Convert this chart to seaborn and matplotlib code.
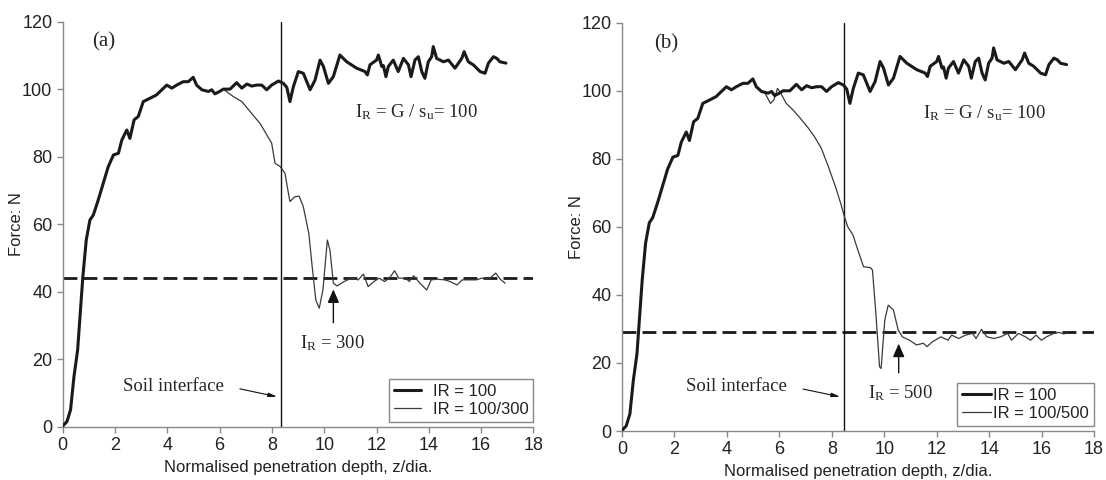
import numpy as np
import pandas as pd
import matplotlib
matplotlib.use("Agg")
import matplotlib.pyplot as plt
import seaborn as sns

# ----------------------- #
# Data
# ----------------------- #

# reference curve IR = 100 (same in both panels)
depth_ir100 = [0.0, 0.16, 0.3, 0.43, 0.57, 0.77, 0.9, 1.04, 1.17, 1.36, 1.55, 1.74, 1.94,
               2.13, 2.26, 2.45, 2.57, 2.73, 2.89, 3.08, 3.34, 3.59, 3.79, 3.98, 4.17, 4.36,
               4.61, 4.8, 4.99, 5.12, 5.32, 5.57, 5.7, 5.82, 6.0, 6.14, 6.4, 6.65, 6.85,
               7.04, 7.23, 7.42, 7.61, 7.8, 7.99, 8.25, 8.44, 8.57, 8.69, 8.82, 9.01, 9.2,
               9.46, 9.65, 9.84, 9.97, 10.16, 10.35, 10.6, 10.86, 11.24, 11.56, 11.65, 11.75,
               12.0, 12.07, 12.2, 12.26, 12.36, 12.45, 12.64, 12.83, 13.03, 13.22, 13.32,
               13.47, 13.6, 13.73, 13.85, 13.98, 14.11, 14.17, 14.3, 14.56, 14.75, 15.0,
               15.26, 15.35, 15.51, 15.7, 15.96, 16.15, 16.28, 16.47, 16.6, 16.72, 16.95]
force_ir100 = [0.2, 1.5, 5.0, 14.8, 22.7, 44.4, 55.3, 61.2, 62.7, 67.2, 72.1, 77.0, 80.5,
               81.0, 84.9, 87.9, 85.4, 90.9, 91.9, 96.3, 97.3, 98.3, 99.8, 101.2, 100.3,
               101.2, 102.2, 102.2, 103.5, 101.2, 99.8, 99.3, 99.8, 98.6, 99.3, 100.0, 100.0,
               101.9, 100.3, 101.5, 100.9, 101.2, 101.2, 99.8, 101.2, 102.4, 101.7, 100.5,
               96.3, 100.7, 105.2, 104.7, 99.8, 102.7, 108.6, 106.7, 101.7, 103.7, 110.1,
               108.1, 106.2, 105.2, 104.2, 107.2, 108.6, 110.1, 106.7, 107.0, 103.7, 106.7,
               108.6, 105.2, 109.1, 107.2, 103.7, 108.6, 109.6, 105.2, 103.2, 108.1, 109.6,
               112.6, 109.1, 108.1, 108.6, 106.2, 109.1, 111.1, 108.1, 107.2, 105.2, 104.7,
               107.7, 109.6, 109.1, 108.1, 107.7]

# (a) IR = 100/300 after it leaves the reference curve
depth_ir300 = [6.0, 6.14, 6.52, 6.85, 7.17, 7.55, 7.8, 7.99, 8.12, 8.31, 8.5, 8.6, 8.69,
               8.87, 9.04, 9.2, 9.41, 9.54, 9.68, 9.81, 9.95, 10.12, 10.22, 10.35, 10.49,
               10.76, 11.03, 11.3, 11.5, 11.68, 11.9, 12.1, 12.31, 12.51, 12.69, 12.85, 13.12,
               13.25, 13.42, 13.66, 13.92, 14.09, 14.33, 14.6, 14.81, 15.08, 15.28, 15.55,
               15.82, 16.02, 16.29, 16.56, 16.73, 16.92]
force_ir300 = [99.3, 100.0, 97.8, 96.3, 93.3, 89.8, 86.5, 84.0, 78.0, 77.1, 75.1, 70.5,
               66.7, 68.1, 68.3, 65.2, 57.3, 47.4, 37.5, 35.1, 40.5, 55.3, 52.3, 42.5, 41.7,
               43.0, 44.0, 43.5, 45.2, 41.5, 43.0, 44.0, 43.0, 44.2, 46.2, 44.0, 44.0, 43.0,
               44.7, 42.5, 40.5, 43.5, 43.7, 43.5, 43.0, 42.0, 43.5, 43.5, 43.5, 44.0, 43.7,
               45.5, 43.7, 42.5]

# (b) IR = 100/500 after it leaves the reference curve
depth_ir500 = [5.45, 5.53, 5.66, 5.79, 5.93, 6.06, 6.26, 6.53, 6.8, 7.07, 7.34, 7.6, 7.87,
               8.14, 8.34, 8.48, 8.61, 8.81, 8.97, 9.21, 9.48, 9.55, 9.68, 9.82, 9.88, 10.02,
               10.15, 10.35, 10.53, 10.69, 10.96, 11.23, 11.49, 11.63, 11.83, 12.16, 12.43,
               12.57, 12.84, 13.1, 13.37, 13.5, 13.71, 13.91, 14.18, 14.44, 14.71, 14.85,
               15.12, 15.38, 15.58, 15.79, 15.99, 16.19, 16.46, 16.66, 16.86]
force_ir500 = [99.3, 98.2, 96.3, 97.3, 100.7, 99.2, 96.3, 94.3, 91.9, 89.4, 86.5, 83.1, 77.7,
               71.8, 66.9, 63.0, 60.0, 57.6, 53.7, 48.3, 48.0, 47.3, 34.6, 18.9, 18.4, 32.6,
               37.0, 35.6, 29.7, 27.7, 26.7, 25.3, 25.8, 24.8, 26.2, 27.7, 26.7, 28.2, 27.2,
               28.2, 28.7, 27.2, 29.9, 27.7, 27.2, 27.7, 28.7, 26.7, 28.7, 27.7, 26.7, 28.2,
               26.7, 27.7, 28.7, 29.0, 28.5]

panel_tags = ["(a)", "(b)"]
legend_labels = ["IR = 100/300", "IR = 100/500"]
ir_values = ["300", "500"]
residual_force = [44.1, 29.0]
soil_interface = [8.33, 8.45]

# ----------------------- #
# Plot
# ----------------------- #
sns.set_style("ticks")
plt.rcParams["font.family"] = ["Liberation Sans", "DejaVu Sans"]
plt.rcParams["mathtext.fontset"] = "custom"
plt.rcParams["mathtext.rm"] = "Liberation Serif"

fig = plt.figure(figsize=(11.06, 4.8), dpi=100)
ax_a = fig.add_axes([0.0567, 0.111, 0.4256, 0.844])
ax_b = fig.add_axes([0.5624, 0.102, 0.4268, 0.8506])

serif = ["Liberation Serif", "DejaVu Serif"]
thin_data = [(depth_ir300, force_ir300), (depth_ir500, force_ir500)]

# annotation positions per panel
tag_x = [1.13, 1.23]
ir_label_x = [11.16, 11.49]
ir_text_xy = [(9.07, 24.7), (9.39, 11.0)]
ir_arrow = [((10.35, 30.0), (10.35, 41.5)), ((10.55, 16.3), (10.55, 26.5))]
soil_text_xy = [(2.32, 12.0), (2.44, 13.2)]
soil_arrow = [((6.67, 11.4), (8.3, 8.7)), ((6.8, 12.5), (8.42, 9.9))]
leg_pad = [0.7, 0.15]
leg_len = [1.6, 1.7]
ylabel_x = [-0.082, -0.080]

for i, ax in enumerate([ax_a, ax_b]):
    ref = pd.DataFrame({"depth": depth_ir100, "force": force_ir100})
    thin = pd.DataFrame({"depth": thin_data[i][0], "force": thin_data[i][1]})

    sns.lineplot(data=thin, x="depth", y="force", ax=ax, color="#3a3a3a", lw=0.9,
                 label=legend_labels[i], sort=False, zorder=3)
    sns.lineplot(data=ref, x="depth", y="force", ax=ax, color="#1a1a1a", lw=2.2,
                 label="IR = 100", sort=False, zorder=4)

    ax.axhline(residual_force[i], color="#1a1a1a", lw=2.0, dashes=(5, 2.2), zorder=2)
    ax.axvline(soil_interface[i], color="#111111", lw=1.0, zorder=2)

    ax.set_xlim(0, 18)
    ax.set_ylim(0, 120)
    ax.set_xticks(range(0, 19, 2))
    ax.set_yticks(range(0, 121, 20))
    ax.set_xlabel("Normalised penetration depth, z/dia.", fontsize=12, color="#222222",
                  labelpad=4)
    ax.set_ylabel("Force: N", fontsize=12, color="#222222")
    ax.yaxis.set_label_coords(ylabel_x[i], 0.5)
    ax.tick_params(labelsize=13, colors="#222222", length=4, width=1, color="#888888")
    for side in ["left", "bottom"]:
        ax.spines[side].set_color("#888888")
        ax.spines[side].set_linewidth(1)
    sns.despine(ax=ax)

    ax.text(tag_x[i], 113.9, panel_tags[i], family=serif, fontsize=15, va="center")
    ax.text(ir_label_x[i], 93.3, r"$\mathregular{I_R}$ = G / $\mathregular{s_u}$= 100",
            family=serif, fontsize=13.5, va="center")
    ax.text(ir_text_xy[i][0], ir_text_xy[i][1], r"$\mathregular{I_R}$ = " + ir_values[i],
            family=serif, fontsize=13.5, va="center")
    ax.annotate("", xy=ir_arrow[i][1], xytext=ir_arrow[i][0],
                arrowprops=dict(arrowstyle="-|>,head_width=0.35,head_length=0.8",
                                color="#111111", lw=1.0))
    ax.text(soil_text_xy[i][0], soil_text_xy[i][1], "Soil interface",
            family=serif, fontsize=13.5, va="center")
    ax.annotate("", xy=soil_arrow[i][1], xytext=soil_arrow[i][0],
                arrowprops=dict(arrowstyle="-|>,head_width=0.12,head_length=0.5",
                                color="#111111", lw=0.8))

    handles, labels = ax.get_legend_handles_labels()
    leg = ax.legend(handles[::-1], labels[::-1], loc="lower right",
                    bbox_to_anchor=(1.0, 0.012), borderaxespad=0, fontsize=12,
                    fancybox=False, framealpha=1, edgecolor="#888888",
                    handletextpad=leg_pad[i], handlelength=leg_len[i],
                    labelspacing=0.2, borderpad=0.3)
    leg.get_frame().set_linewidth(1.0)
    for t in leg.get_texts():
        t.set_color("#222222")

fig.savefig("out.png", dpi=100)
